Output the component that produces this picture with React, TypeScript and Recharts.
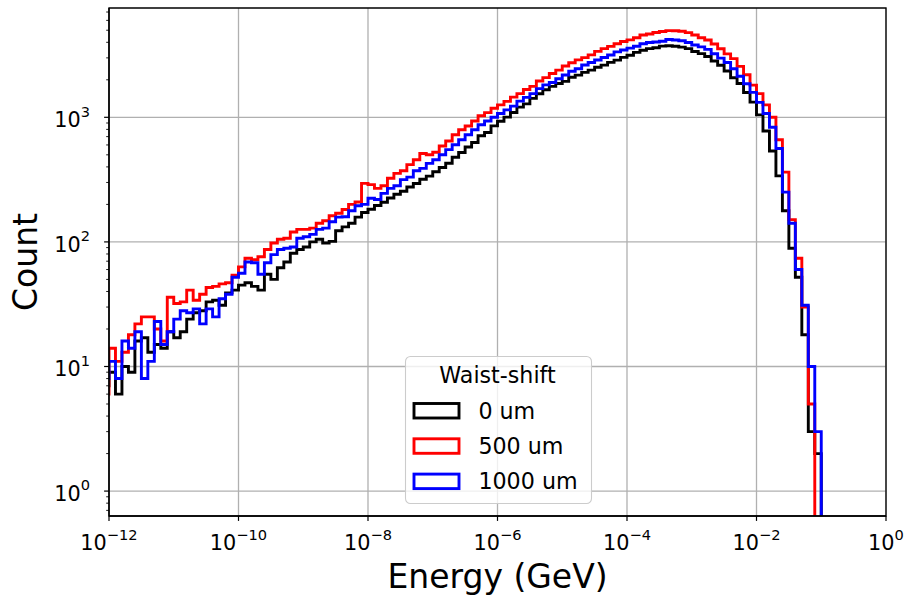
import React from 'react';
import { ComposedChart, Line, XAxis, YAxis, CartesianGrid, Legend, ReferenceArea } from 'recharts';

// Bin edges (log10 of energy in GeV), 0.1-decade bins; the first bin lies just left of the axis range
const EDGE_EXPONENTS = [
  -12.1,
  -12.0, -11.9, -11.8, -11.7, -11.6, -11.5, -11.4, -11.3, -11.2, -11.1,
  -11.0, -10.9, -10.8, -10.7, -10.6, -10.5, -10.4, -10.3, -10.2, -10.1,
  -10.0, -9.9, -9.8, -9.7, -9.6, -9.5, -9.4, -9.3, -9.2, -9.1,
  -9.0, -8.9, -8.8, -8.7, -8.6, -8.5, -8.4, -8.3, -8.2, -8.1,
  -8.0, -7.9, -7.8, -7.7, -7.6, -7.5, -7.4, -7.3, -7.2, -7.1,
  -7.0, -6.9, -6.8, -6.7, -6.6, -6.5, -6.4, -6.3, -6.2, -6.1,
  -6.0, -5.9, -5.8, -5.7, -5.6, -5.5, -5.4, -5.3, -5.2, -5.1,
  -5.0, -4.9, -4.8, -4.7, -4.6, -4.5, -4.4, -4.3, -4.2, -4.1,
  -4.0, -3.9, -3.8, -3.7, -3.6, -3.5, -3.4, -3.3, -3.2, -3.1,
  -3.0, -2.9, -2.8, -2.7, -2.6, -2.5, -2.4, -2.3, -2.2, -2.1,
  -2.0, -1.9, -1.8, -1.7, -1.6, -1.5, -1.4, -1.3, -1.2, -1.1,
  -1.0,
];

// Counts per bin, waist-shift 0 um
const COUNTS_0UM = [
  7,
  9, 6, 10, 9, 16, 17, 13, 15, 14, 19,
  17, 19, 24, 27, 28, 33, 34, 31, 39, 41,
  45, 47, 44, 41, 55, 50, 62, 69, 81, 87,
  91, 100, 105, 98, 101, 123, 132, 141, 158, 172,
  183, 196, 208, 225, 241, 255, 276, 294, 318, 337,
  366, 396, 428, 478, 522, 578, 628, 711, 756, 853,
  929, 1004, 1093, 1207, 1283, 1418, 1546, 1665, 1772, 1868,
  1944, 2095, 2181, 2296, 2392, 2520, 2622, 2760, 2876, 3028,
  3150, 3322, 3455, 3560, 3620, 3728, 3750, 3722, 3660, 3560,
  3378, 3245, 3080, 2830, 2620, 2352, 2080, 1870, 1580, 1325,
  1047, 776, 537, 339, 178, 89, 52, 18, 3, 2,
];

// Counts per bin, waist-shift 500 um
const COUNTS_500UM = [
  6,
  14, 11, 13, 18, 22, 25, 25, 20, 16, 36,
  32, 33, 41, 34, 38, 43, 44, 46, 47, 54,
  63, 74, 72, 76, 87, 98, 105, 107, 120, 126,
  126, 129, 141, 148, 162, 170, 182, 200, 209, 295,
  288, 269, 282, 324, 355, 372, 417, 457, 513, 501,
  525, 589, 646, 724, 794, 851, 933, 1030, 1090, 1182,
  1259, 1342, 1452, 1549, 1672, 1770, 1958, 2081, 2245, 2391,
  2578, 2742, 2890, 3012, 3170, 3380, 3556, 3708, 3898, 4062,
  4180, 4352, 4580, 4668, 4795, 4890, 4962, 4948, 4905, 4780,
  4580, 4352, 4175, 3880, 3555, 3230, 2960, 2562, 2195, 1812,
  1549, 1259, 1000, 661, 363, 151, 74, 30, 5, 0,
];

// Counts per bin, waist-shift 1000 um
const COUNTS_1000UM = [
  8,
  11, 8, 16, 14, 19, 8, 11, 23, 15, 19,
  24, 28, 27, 29, 22, 29, 25, 35, 38, 52,
  56, 69, 68, 55, 68, 79, 87, 89, 91, 107,
  110, 115, 126, 129, 145, 158, 159, 178, 195, 200,
  224, 219, 245, 269, 282, 316, 331, 372, 389, 427,
  457, 501, 550, 603, 661, 724, 794, 871, 933, 1000,
  1072, 1148, 1230, 1349, 1445, 1549, 1698, 1820, 1905, 2042,
  2188, 2344, 2455, 2630, 2754, 2884, 3020, 3162, 3350, 3467,
  3589, 3715, 3890, 3981, 4027, 4074, 4217, 4169, 4121, 3981,
  3802, 3673, 3508, 3236, 2985, 2754, 2455, 2138, 1862, 1585,
  1318, 1072, 832, 562, 251, 141, 60, 31, 10, 3,
];

const X_TICKS = [1e-12, 1e-10, 1e-8, 1e-6, 1e-4, 1e-2, 1];
const X_TICK_EXPONENTS = ['\u221212', '\u221210', '\u22128', '\u22126', '\u22124', '\u22122', '0'];
const Y_MAJOR_TICKS = [1, 10, 100, 1000];
const Y_MAJOR_EXPONENTS = ['0', '1', '2', '3'];
const Y_MINOR_TICKS = [
  0.7, 0.8, 0.9,
  2, 3, 4, 5, 6, 7, 8, 9,
  20, 30, 40, 50, 60, 70, 80, 90,
  200, 300, 400, 500, 600, 700, 800, 900,
  2000, 3000, 4000, 5000, 6000, 7000,
];

const SERIES = [
  { key: 'w0', name: '0 um', color: '#000000', counts: COUNTS_0UM },
  { key: 'w500', name: '500 um', color: '#ff0000', counts: COUNTS_500UM },
  { key: 'w1000', name: '1000 um', color: '#0000ff', counts: COUNTS_1000UM },
];

const X_DOMAIN = [1e-12, 1];
const Y_DOMAIN = [0.631, 7540];
const FLOOR = 1e-3; // empty bin: drawn below the visible range, as in a log-scale step histogram

const FONT = 'DejaVu Sans, Liberation Sans, sans-serif';

// Build step-histogram rows: one point per bin left edge, then the closing edge
const rows: Record<string, number>[] = EDGE_EXPONENTS.map((e, i) => {
  const row: Record<string, number> = { x: Math.pow(10, e) };
  SERIES.forEach((s) => {
    const c = i < s.counts.length ? s.counts[i] : 0;
    row[s.key] = c > 0 ? c : FLOOR;
  });
  return row;
});

const Y_TICKS = [...Y_MINOR_TICKS, ...Y_MAJOR_TICKS].sort((a, b) => a - b);

const XTick = (props: any) => {
  const { x, y, payload } = props;
  const v = payload.value;
  let idx = 0;
  let best = Infinity;
  X_TICKS.forEach((t, i) => {
    const d = Math.abs(Math.log10(t) - Math.log10(v));
    if (d < best) {
      best = d;
      idx = i;
    }
  });
  return (
    <text x={x} y={y + 29.1} textAnchor="middle" fontFamily={FONT} fill="#000">
      <tspan fontSize={20.8}>10</tspan>
      <tspan fontSize={14.6} dy={-10}>{X_TICK_EXPONENTS[idx]}</tspan>
    </text>
  );
};

const YTick = (props: any) => {
  const { x, y, payload } = props;
  const v = payload.value;
  const mi = Y_MAJOR_TICKS.findIndex((t) => Math.abs(Math.log10(t) - Math.log10(v)) < 1e-6);
  if (mi < 0) {
    return <line x1={x - 2.8} x2={x} y1={y} y2={y} stroke="#000" strokeWidth={0.9} />;
  }
  return (
    <g>
      <line x1={x - 4.9} x2={x} y1={y} y2={y} stroke="#000" strokeWidth={1.2} />
      <text x={x - 19} y={y + 9.7} textAnchor="end" fontFamily={FONT} fill="#000">
        <tspan fontSize={20.8}>10</tspan>
        <tspan fontSize={14.6} dy={-10.5}>{Y_MAJOR_EXPONENTS[mi]}</tspan>
      </text>
    </g>
  );
};

const LegendBox = () => (
  <svg width={188} height={149} style={{ display: 'block', overflow: 'visible' }}>
    <rect
      x={0.5}
      y={0.5}
      width={186}
      height={147}
      rx={5}
      ry={5}
      fill="rgba(255,255,255,0.8)"
      stroke="#cccccc"
      strokeWidth={1.1}
    />
    <text x={92.5} y={27} textAnchor="middle" fontFamily={FONT} fontSize={22.2} fill="#000">
      Waist-shift
    </text>
    {SERIES.map((s, i) => (
      <g key={s.key}>
        <rect
          x={9}
          y={47.5 + i * 35.3}
          width={45}
          height={14.5}
          fill="none"
          stroke={s.color}
          strokeWidth={2.9}
        />
        <text x={73.4} y={62.7 + i * 35.3} fontFamily={FONT} fontSize={22.2} fill="#000">
          {s.name}
        </text>
      </g>
    ))}
  </svg>
);

export default function App() {
  return (
    <div style={{ position: 'absolute', left: 0, top: 0, width: 910, height: 597, background: '#fff' }}>
      <ComposedChart
        width={910}
        height={597}
        data={rows}
        margin={{ top: 8, right: 24, bottom: 0, left: 0 }}
      >
        <CartesianGrid
          stroke="#b0b0b0"
          strokeWidth={1.3}
          horizontalValues={Y_MAJOR_TICKS}
          verticalValues={X_TICKS}
        />
        {SERIES.map((s) => (
          <Line
            key={s.key}
            dataKey={s.key}
            name={s.name}
            type="stepAfter"
            stroke={s.color}
            strokeWidth={2.9}
            dot={false}
            activeDot={false}
            isAnimationActive={false}
          />
        ))}
        <ReferenceArea
          x1={X_DOMAIN[0]}
          x2={X_DOMAIN[1]}
          y1={Y_DOMAIN[0]}
          y2={Y_DOMAIN[1]}
          fill="none"
          fillOpacity={0}
          stroke="#000"
          strokeWidth={1.3}
          ifOverflow="visible"
          zIndex={1500}
        />
        <XAxis
          dataKey="x"
          type="number"
          scale="log"
          domain={X_DOMAIN}
          allowDataOverflow
          ticks={X_TICKS}
          interval={0}
          tickSize={4.9}
          tickMargin={0}
          tickLine={{ stroke: '#000', strokeWidth: 1.2 }}
          axisLine={{ stroke: '#000', strokeWidth: 1.3 }}
          tick={<XTick />}
          height={81}
          label={{
            value: 'Energy (GeV)',
            content: () => (
              <text x={497.5} y={587.5} textAnchor="middle" fontFamily={FONT} fontSize={33} fill="#000">
                Energy (GeV)
              </text>
            ),
          }}
        />
        <YAxis
          type="number"
          scale="log"
          domain={Y_DOMAIN}
          allowDataOverflow
          ticks={Y_TICKS}
          interval={0}
          tickSize={0}
          tickMargin={0}
          tickLine={false}
          axisLine={{ stroke: '#000', strokeWidth: 1.3 }}
          tick={<YTick />}
          width={109}
          label={{
            value: 'Count',
            content: () => (
              <text
                x={37}
                y={262}
                transform="rotate(-90 37 262)"
                textAnchor="middle"
                fontFamily={FONT}
                fontSize={33}
                fill="#000"
              >
                Count
              </text>
            ),
          }}
        />
        <Legend
          layout="vertical"
          align="center"
          verticalAlign="middle"
          content={() => <LegendBox />}
          wrapperStyle={{ left: 405, top: 356, width: 188, height: 149, margin: 0 }}
        />
      </ComposedChart>
    </div>
  );
}
